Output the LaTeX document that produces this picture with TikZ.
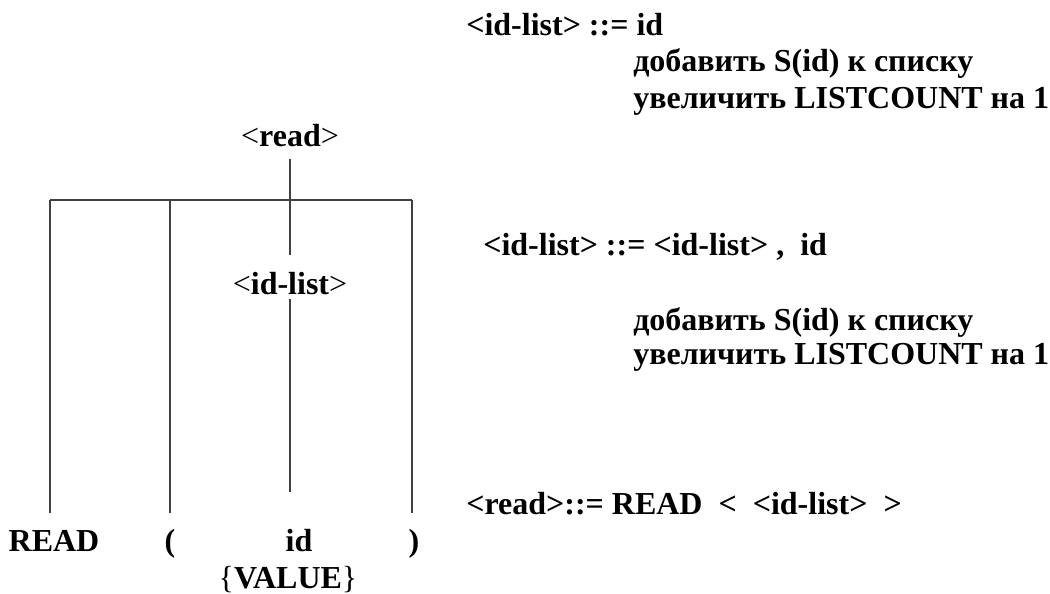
\documentclass[tikz,border=0pt]{standalone}
\usepackage{fontspec}
\setmainfont{Liberation Serif}
\tikzset{
  tlbl/.style={font=\fontsize{24}{28}\selectfont\bfseries,inner sep=0pt,anchor=base},
  rule/.style={font=\fontsize{24}{28}\selectfont\bfseries,inner sep=0pt,anchor=base west},
  br/.style={line width=0.8pt,black!75},
}
\newcommand{\thinlt}{{\mdseries<}}
\newcommand{\thingt}{{\mdseries>}}

\begin{document}
\begin{tikzpicture}[x=0.75pt,y=-0.75pt]
  \useasboundingbox (0,0) rectangle (1050,593);
  % parse tree
  \node[tlbl] (read) at (290,146) {\thinlt read\thingt};
  \node[tlbl] (idl) at (290,294) {\thinlt id-list\thingt};
  \node[tlbl] (kw) at (54,551) {READ};
  \node[tlbl] (lp) at (170,551) {(};
  \node[tlbl] (id) at (299,551) {id};
  \node[tlbl] (rp) at (414,551) {)};
  \node[tlbl] (val) at (288,588) {{\mdseries\{}VALUE{\mdseries\}}};
  \coordinate (barL) at (50,200);
  \coordinate (barM) at (170,200);
  \coordinate (barR) at (412,200);
  \draw[br] (barL) -- (barR);
  \draw[br] (read.south |- 0,159) -- (idl.north |- 0,255);
  \draw[br] (idl.south |- 0,299) -- (idl.south |- 0,492);
  \foreach \c in {barL,barM,barR}
    \draw[br] (\c) -- (\c |- 0,513);
  % productions
  \node[rule] (r1) at (466,35) {<id-list> ::= id};
  \node[rule] (a1) at (633,71) {добавить S(id) к списку};
  \node[rule] (b1) at (633,108) {увеличить LISTCOUNT на 1};
  \node[rule] (r2) at (483,255) {<id-list> ::= <id-list> ,\ \ id};
  \node[rule] (a2) at (633,330) {добавить S(id) к списку};
  \node[rule] (b2) at (633,364) {увеличить LISTCOUNT на 1};
  \node[rule] (r3) at (466,514) {<read>::= READ\ \ <\ \ <id-list>\ \ >};
\end{tikzpicture}
\end{document}
